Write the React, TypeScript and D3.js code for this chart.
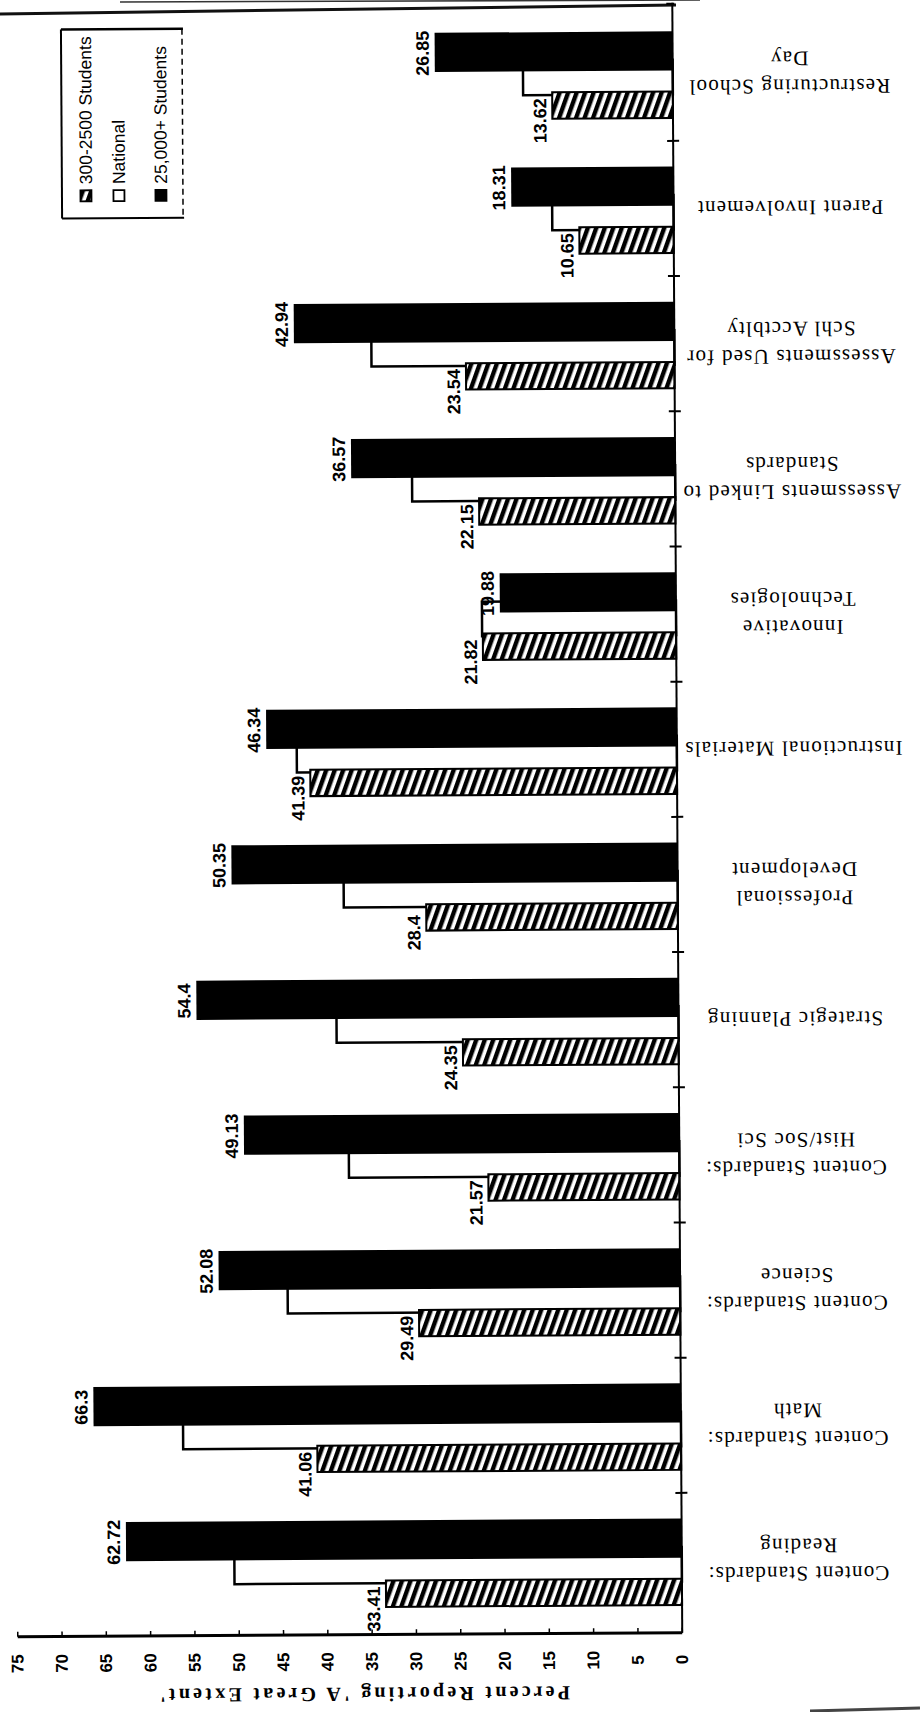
import React from 'react';
import * as d3 from 'd3';

// categories, top to bottom as they appear on the (upside-down) scan
const categories: string[][] = [
  ['Restructuring School', 'Day'],
  ['Parent Involvement'],
  ['Assessments Used for', 'Schl Acctblty'],
  ['Assessments Linked to', 'Standards'],
  ['Innovative', 'Technologies'],
  ['Instructional Materials'],
  ['Professional', 'Development'],
  ['Strategic Planning'],
  ['Content Standards:', 'Hist/Soc Sci'],
  ['Content Standards:', 'Science'],
  ['Content Standards:', 'Math'],
  ['Content Standards:', 'Reading'],
];

const small = [13.62, 10.65, 23.54, 22.15, 21.82, 41.39, 28.4, 24.35, 21.57, 29.49, 41.06, 33.41];
const national = [16.9, 13.7, 34.2, 29.7, 21.9, 42.9, 37.7, 38.6, 37.3, 44.3, 56.2, 50.5];
const large = [26.85, 18.31, 42.94, 36.57, 19.88, 46.34, 50.35, 54.4, 49.13, 52.08, 66.3, 62.72];

const tickValues = [0, 5, 10, 15, 20, 25, 30, 35, 40, 45, 50, 55, 60, 65, 70, 75];
const legendLabels = ['300-2500 Students', 'National', '25,000+ Students'];

const W = 920;
const H = 1712;
const axisY = 1634;

const x = d3.scaleLinear().domain([0, 75]).range([677.5, 677.5 - 75 * 8.86]);
const y = d3
  .scaleBand<number>()
  .domain(d3.range(categories.length))
  .range([7, 1629.4])
  .padding(0);
const bw = y.bandwidth();

const sans = 'Liberation Sans, Arial, sans-serif';
const serif = 'Liberation Serif, Times New Roman, serif';

// bar placement inside a band (fractions of band height)
const seriesStyle = [
  { values: national, y0: 0.4, y1: 0.655, fill: '#fff', stroke: '#000', sw: 2.5, labelAt: null as number | null },
  { values: large, y0: 0.19, y1: 0.48, fill: '#000', stroke: 'none', sw: 0, labelAt: 0.34 },
  { values: small, y0: 0.635, y1: 0.83, fill: 'url(#hatch)', stroke: '#000', sw: 2, labelAt: 0.845 },
];

const legendX = [90, 123, 165];
const legendFill = ['url(#hatch)', '#fff', '#000'];

const App: React.FC = () => {
  const x0 = x(0);
  return (
    <svg
      width={W}
      height={H}
      style={{ position: 'absolute', left: 0, top: 0, background: '#fff' }}
    >
      <defs>
        <pattern id="hatch" patternUnits="userSpaceOnUse" width={8} height={8} patternTransform="rotate(20)">
          <rect width={8} height={8} fill="#fff" />
          <rect width={4.4} height={8} fill="#000" />
        </pattern>
      </defs>
      <rect width={W} height={H} fill="#fff" />

      {/* scan edge artefacts */}
      <line x1={0} y1={14} x2={676} y2={5} stroke="#111" strokeWidth={3} />
      <line x1={120} y1={2} x2={700} y2={0} stroke="#333" strokeWidth={1.5} />
      <line x1={810} y1={1711} x2={920} y2={1708} stroke="#444" strokeWidth={3} />

      <g transform="rotate(-0.35 460 856)">
        {/* bars */}
        {seriesStyle.map((s, si) => (
          <g key={si}>
            {s.values.map((v, i) => {
              const top = (y(i) as number) + s.y0 * bw;
              return (
                <rect
                  key={i}
                  x={x(v)}
                  y={top}
                  width={x0 - x(v)}
                  height={(s.y1 - s.y0) * bw}
                  fill={s.fill}
                  stroke={s.stroke}
                  strokeWidth={s.sw}
                />
              );
            })}
          </g>
        ))}

        {/* value labels */}
        {seriesStyle.map((s, si) =>
          s.labelAt === null
            ? null
            : s.values.map((v, i) => (
                <text
                  key={`${si}-${i}`}
                  transform={`translate(${x(v) - 6},${(y(i) as number) + (s.labelAt as number) * bw}) rotate(-90)`}
                  textAnchor="middle"
                  fontFamily={sans}
                  fontWeight="bold"
                  fontSize={18}
                  fill="#000"
                >
                  {String(v)}
                </text>
              ))
        )}

        {/* category axis */}
        <line x1={x0} y1={4} x2={x0} y2={axisY} stroke="#000" strokeWidth={2} />
        <line x1={x0 - 6} y1={5} x2={x0 + 2} y2={5} stroke="#000" strokeWidth={2} />
        {d3.range(1, categories.length).map((i) => (
          <line key={i} x1={x0 - 6} x2={x0 + 6} y1={y(i)} y2={y(i)} stroke="#000" strokeWidth={2} />
        ))}

        {/* category labels, upside down */}
        {categories.map((lines, i) => {
          const cy = (y(i) as number) + bw / 2;
          return (
            <g key={i} transform={`translate(794,${cy}) rotate(180)`}>
              {lines.map((t, k) => (
                <text
                  key={k}
                  y={(k - (lines.length - 1) / 2) * 28}
                  textAnchor="middle"
                  dominantBaseline="central"
                  fontFamily={serif}
                  fontSize={21}
                  letterSpacing={1.2}
                  fill="#000"
                >
                  {t}
                </text>
              ))}
            </g>
          );
        })}

        {/* value axis */}
        <line x1={x(75)} x2={x0} y1={axisY} y2={axisY} stroke="#000" strokeWidth={3} />
        {tickValues.map((t) => (
          <g key={t}>
            <line x1={x(t)} x2={x(t)} y1={axisY - 5} y2={axisY} stroke="#000" strokeWidth={1.5} />
            <text
              transform={`translate(${x(t)},1661) rotate(-90)`}
              textAnchor="middle"
              dominantBaseline="central"
              fontFamily={sans}
              fontWeight="bold"
              fontSize={17}
              fill="#000"
            >
              {t}
            </text>
          </g>
        ))}
        <text
          transform="translate(360,1694) rotate(180)"
          textAnchor="middle"
          dominantBaseline="central"
          fontFamily={serif}
          fontWeight="bold"
          fontSize={20}
          textLength={410}
          lengthAdjust="spacing"
          fill="#000"
        >
          Percent Reporting 'A Great Extent'
        </text>

        {/* legend */}
        <g>
          <line x1={66} y1={27} x2={188} y2={27} stroke="#000" strokeWidth={2.5} />
          <line x1={66} y1={27} x2={66} y2={216} stroke="#000" strokeWidth={2} />
          <line x1={66} y1={216} x2={188} y2={216} stroke="#000" strokeWidth={2} />
          <line x1={187} y1={27} x2={187} y2={216} stroke="#000" strokeWidth={1.5} strokeDasharray="6 4" />
          {legendLabels.map((t, i) => (
            <g key={t}>
              <rect
                x={legendX[i] - 5.5}
                y={188}
                width={11}
                height={11}
                fill={legendFill[i]}
                stroke="#000"
                strokeWidth={1.8}
              />
              <text
                transform={`translate(${legendX[i]},182) rotate(-90)`}
                dominantBaseline="central"
                fontFamily={sans}
                fontSize={17.5}
                fill="#000"
              >
                {t}
              </text>
            </g>
          ))}
        </g>
      </g>
    </svg>
  );
};

export default App;
